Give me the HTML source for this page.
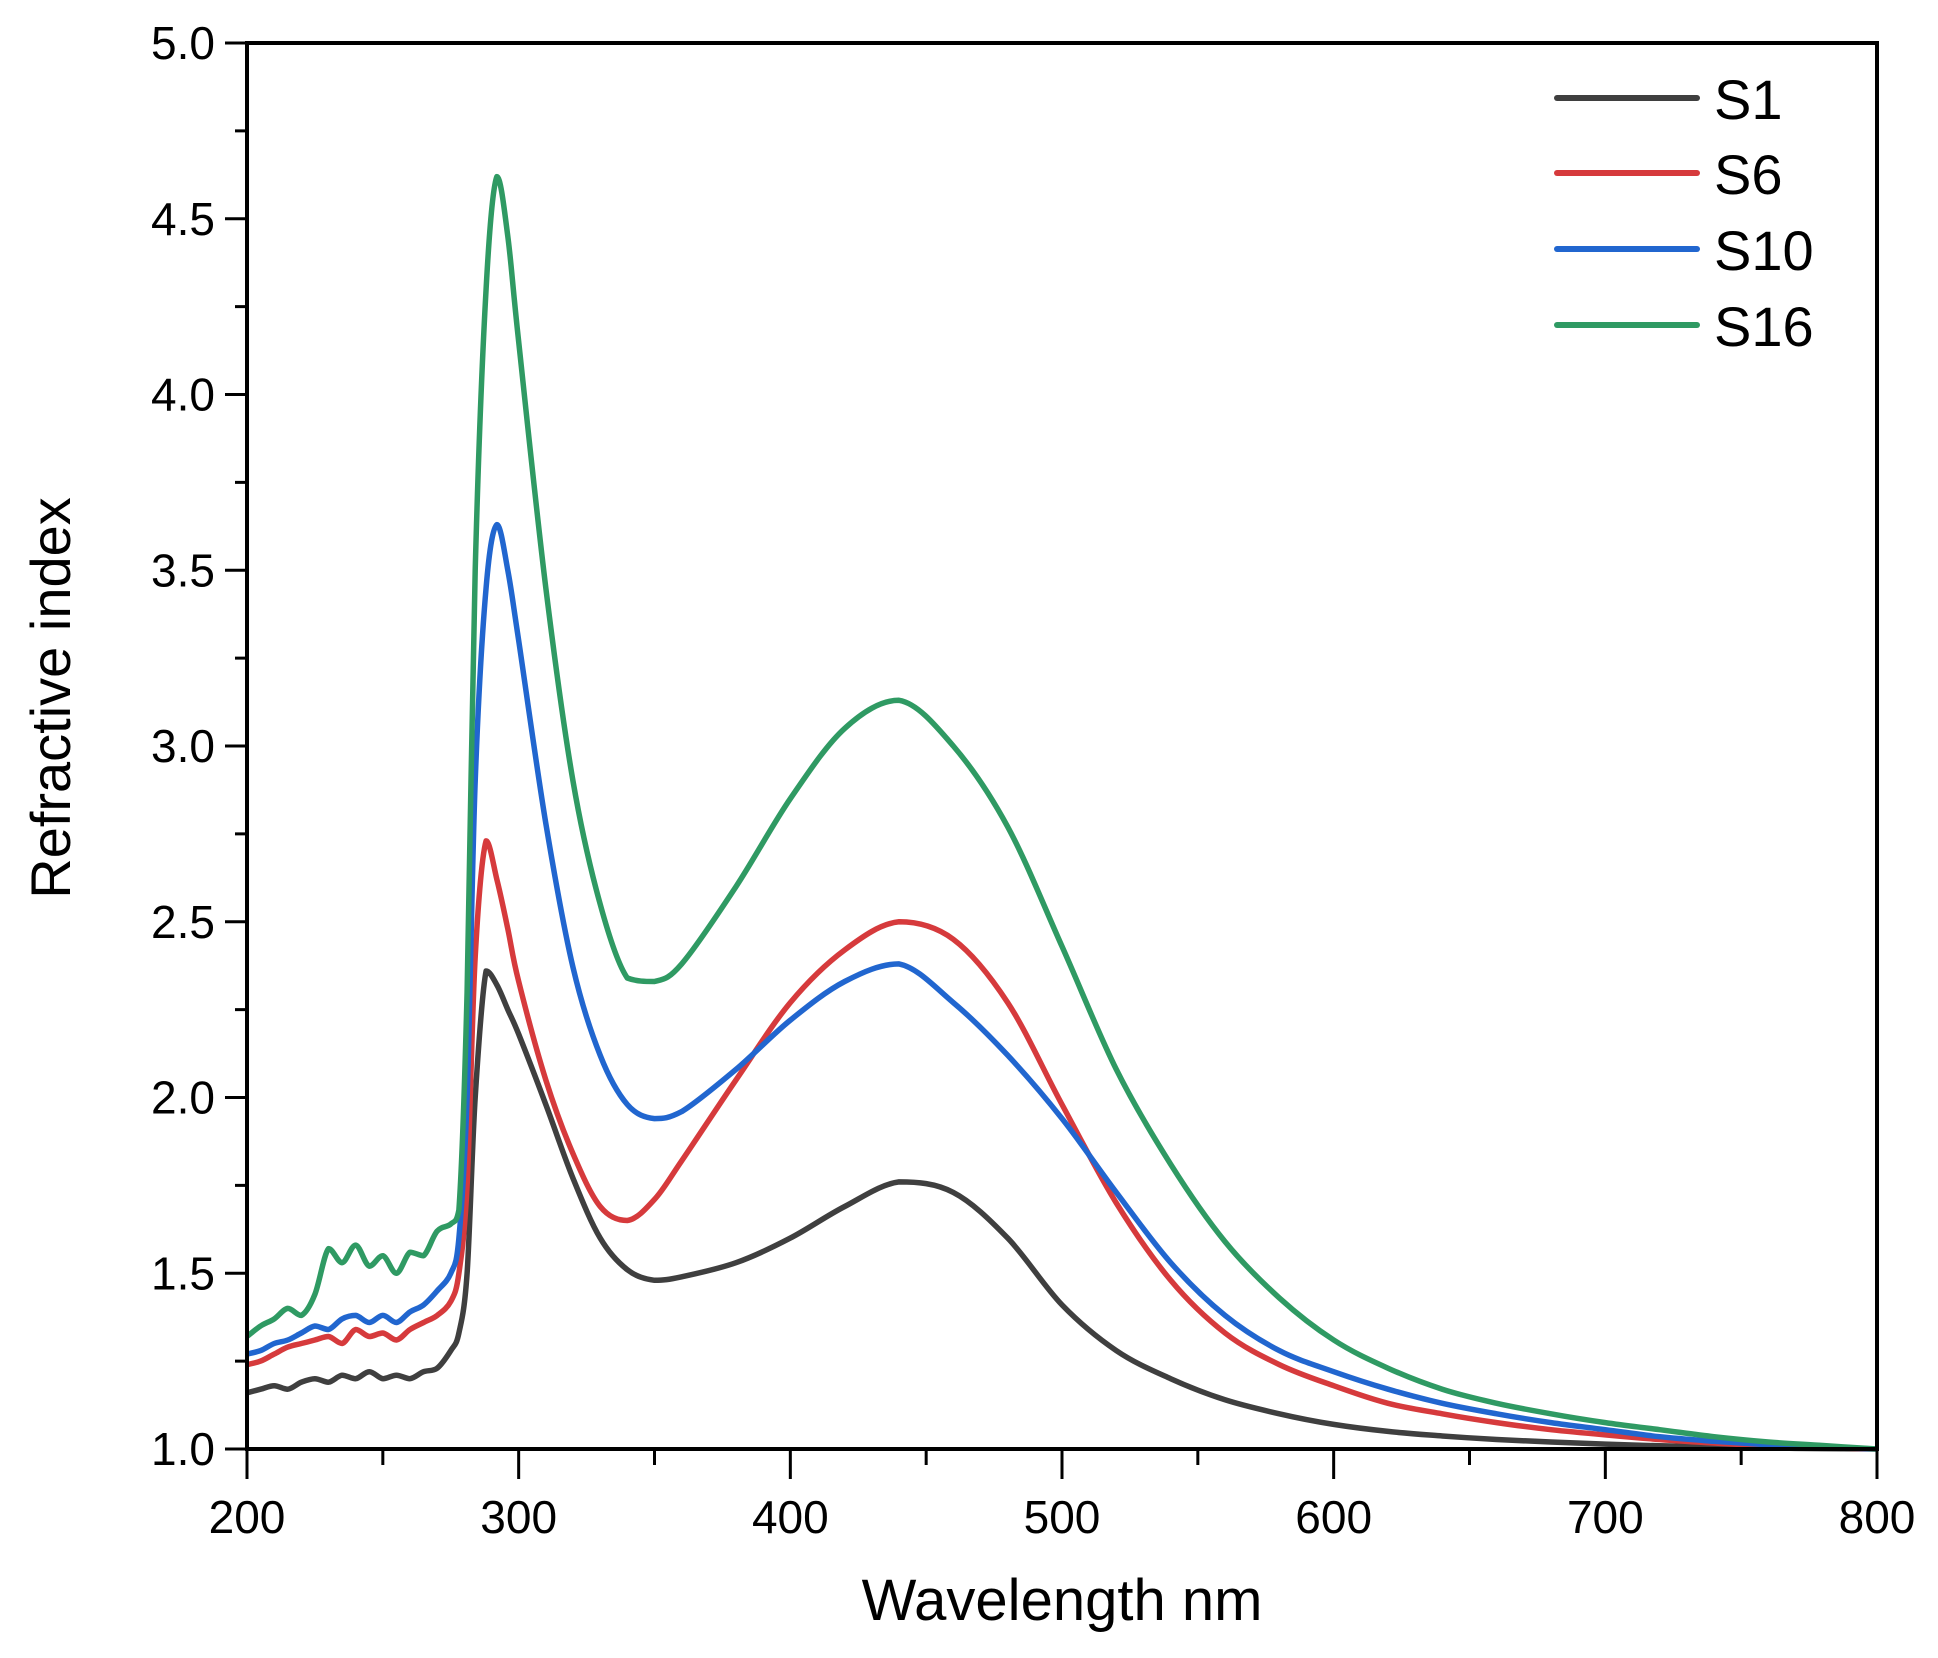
<!DOCTYPE html>
<html><head><meta charset="utf-8"><style>
html,body{margin:0;padding:0;background:#fff;}
svg{display:block;}
text{font-family:"Liberation Sans",Arial,sans-serif;fill:#000;}
</style></head><body>
<svg id="chart" width="1938" height="1658" viewBox="0 0 1938 1658" xmlns="http://www.w3.org/2000/svg">
<g id="plot"></g>
<g id="axes"></g>
<g id="legend"></g>
</svg>
<script>
const wavelengths = [200,205,210,215,220,225,230,235,240,245,250,255,260,265,270,275,278,281,284,288,292,296,300,310,320,330,340,350,360,380,400,420,440,460,480,500,520,540,560,580,600,620,640,660,680,700,720,740,760,780,800];
const s1 = [1.16,1.17,1.18,1.17,1.19,1.20,1.19,1.21,1.20,1.22,1.20,1.21,1.20,1.22,1.23,1.28,1.33,1.5,2.0,2.36,2.32,2.25,2.18,1.98,1.77,1.6,1.51,1.48,1.49,1.53,1.6,1.69,1.76,1.73,1.6,1.41,1.28,1.20,1.14,1.1,1.07,1.05,1.037,1.027,1.02,1.014,1.009,1.006,1.003,1.001,1.0];
const s6 = [1.24,1.25,1.27,1.29,1.30,1.31,1.32,1.30,1.34,1.32,1.33,1.31,1.34,1.36,1.38,1.42,1.5,1.75,2.4,2.73,2.62,2.48,2.33,2.05,1.84,1.69,1.65,1.71,1.82,2.05,2.27,2.42,2.5,2.45,2.27,1.98,1.7,1.48,1.33,1.24,1.18,1.13,1.1,1.075,1.055,1.04,1.027,1.017,1.009,1.004,1.0];
const s10 = [1.27,1.28,1.30,1.31,1.33,1.35,1.34,1.37,1.38,1.36,1.38,1.36,1.39,1.41,1.45,1.5,1.6,2.0,2.9,3.45,3.63,3.5,3.3,2.78,2.37,2.12,1.98,1.94,1.96,2.08,2.22,2.33,2.38,2.27,2.12,1.94,1.73,1.53,1.38,1.28,1.22,1.17,1.13,1.1,1.075,1.055,1.035,1.022,1.012,1.005,1.0];
const s16 = [1.32,1.35,1.37,1.40,1.38,1.44,1.57,1.53,1.58,1.52,1.55,1.50,1.56,1.55,1.62,1.64,1.68,2.3,3.5,4.3,4.62,4.45,4.15,3.45,2.9,2.55,2.34,2.33,2.38,2.6,2.85,3.05,3.13,3.0,2.77,2.43,2.08,1.81,1.59,1.43,1.31,1.23,1.17,1.13,1.1,1.075,1.055,1.035,1.02,1.01,1.0];
const seriesNames = ["S1","S6","S10","S16"];
const xTicks = [200,300,400,500,600,700,800];
const yTicks = [1.0,1.5,2.0,2.5,3.0,3.5,4.0,4.5,5.0];

const NS="http://www.w3.org/2000/svg";
const L=247,R=1877,T=43,B=1449;
const xMin=200,xMax=800,yMin=1,yMax=5;
function xs(v){return L+(v-xMin)/(xMax-xMin)*(R-L);}
function ys(v){return B-(v-yMin)/(yMax-yMin)*(B-T);}
function mk(tag,attrs,parent){const e=document.createElementNS(NS,tag);for(const k in attrs)e.setAttribute(k,attrs[k]);parent.appendChild(e);return e;}
function smoothPath(pts){
  let d='M'+pts[0][0].toFixed(1)+','+pts[0][1].toFixed(1);
  for(let i=0;i<pts.length-1;i++){
    const p0=pts[Math.max(0,i-1)],p1=pts[i],p2=pts[i+1],p3=pts[Math.min(pts.length-1,i+2)];
    const lo=Math.min(p1[1],p2[1]),hi=Math.max(p1[1],p2[1]);
    let c1x=p1[0]+(p2[0]-p0[0])/6,c1y=p1[1]+(p2[1]-p0[1])/6;
    let c2x=p2[0]-(p3[0]-p1[0])/6,c2y=p2[1]-(p3[1]-p1[1])/6;
    c1x=Math.min(Math.max(c1x,p1[0]),p2[0]);c2x=Math.min(Math.max(c2x,p1[0]),p2[0]);
    c1y=Math.min(Math.max(c1y,lo),hi);c2y=Math.min(Math.max(c2y,lo),hi);
    d+=' C'+c1x.toFixed(1)+','+c1y.toFixed(1)+' '+c2x.toFixed(1)+','+c2y.toFixed(1)+' '+p2[0].toFixed(1)+','+p2[1].toFixed(1);
  }
  return d;
}
const plot=document.getElementById('plot'),axes=document.getElementById('axes'),legend=document.getElementById('legend');
const colors=["#3f3f3f","#d63a3c","#2166cf","#2f9a63"];
const all=[s1,s6,s10,s16];
all.forEach((s,i)=>{
  const pts=s.map((v,j)=>[xs(wavelengths[j]),ys(v)]);
  const p=mk('path',{d:smoothPath(pts),fill:'none',stroke:colors[i],'stroke-width':5.5,'stroke-linejoin':'round'},plot);
  
  
});
const fr=mk('rect',{x:L,y:T,width:R-L,height:B-T,fill:'none',stroke:'#000','stroke-width':4},axes);


for(let v=200;v<=800;v+=50){
  const major=v%100===0;
  const t=mk('line',{x1:xs(v),x2:xs(v),y1:B,y2:B+(major?30:16),stroke:'#000','stroke-width':3},axes);
  
  
}
xTicks.forEach(v=>{
  const t=mk('text',{x:xs(v),y:B+84,'font-size':46,'text-anchor':'middle'},axes);t.textContent=v;
  
  
});
for(let v=1;v<=5.001;v+=0.25){
  const major=Math.abs(v*2-Math.round(v*2))<1e-6;
  const t=mk('line',{x1:L-(major?22:12),x2:L,y1:ys(v),y2:ys(v),stroke:'#000','stroke-width':3},axes);
  
  
}
yTicks.forEach(v=>{
  const t=mk('text',{x:L-32,y:ys(v)+16,'font-size':46,'text-anchor':'end'},axes);t.textContent=v.toFixed(1);
  
  
});
const xt=mk('text',{x:(L+R)/2,y:1620,'font-size':58,'text-anchor':'middle'},axes);xt.textContent='Wavelength nm';


const yt=mk('text',{x:0,y:0,'font-size':56,'text-anchor':'middle',transform:'translate(70,698) rotate(-90)'},axes);yt.textContent='Refractive index';


const ly=[98,173,249,325];
seriesNames.forEach((n,i)=>{
  const ln=mk('line',{x1:1557,x2:1697,y1:ly[i],y2:ly[i],stroke:colors[i],'stroke-width':6,'stroke-linecap':'round'},legend);
  
  
  const tx=mk('text',{x:1714,y:ly[i]+21,'font-size':56},legend);tx.textContent=n;
  
  
});
</script>
</body></html>
